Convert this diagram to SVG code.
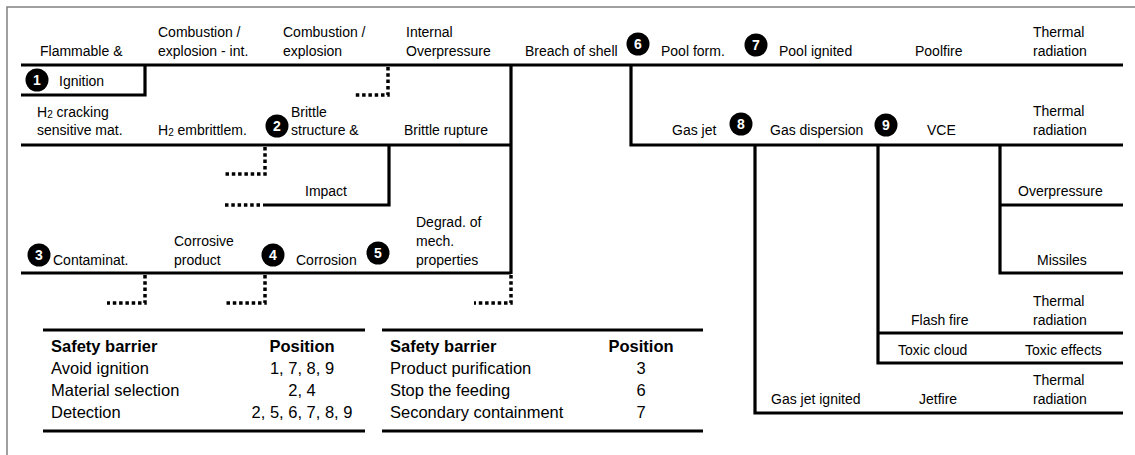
<svg xmlns="http://www.w3.org/2000/svg" width="1135" height="455" viewBox="0 0 1135 455">
<style>
.t{font-family:"Liberation Sans",Arial,sans-serif;font-size:14px;fill:#000}
.tb{font-family:"Liberation Sans",Arial,sans-serif;font-size:16.5px;fill:#000}
.b{font-weight:bold}
.c{text-anchor:middle}
.ln{stroke:#000;stroke-width:3.2;fill:none}
.dt{stroke:#000;stroke-width:3.5;fill:none;stroke-dasharray:3.5 2.8}
.badge circle{fill:#000}
.badge text{font-family:"Liberation Sans",Arial,sans-serif;font-size:14px;font-weight:bold;fill:#fff;text-anchor:middle}
.sub{font-size:10px}
</style>
<rect x="7" y="7" width="1140" height="460" fill="#fff" stroke="#808080" stroke-width="1.5"/>

<g id="connectors">
  <path class="ln" d="M21,65 H1123"/>
  <path class="ln" d="M21,95 H145 V65"/>
  <path class="ln" d="M21,145 H511"/>
  <path class="ln" d="M511,65 V274"/>
  <path class="ln" d="M21,273 H511"/>
  <path class="ln" d="M263,205 H389 V145"/>
  <path class="ln" d="M631,65 V145 H1123"/>
  <path class="ln" d="M755,145 V413 H1123"/>
  <path class="ln" d="M878,145 V363 H1123"/>
  <path class="ln" d="M878,333 H1123"/>
  <path class="ln" d="M1000,145 V273 H1123"/>
  <path class="ln" d="M1000,205 H1123"/>
  <path class="dt" d="M388,67 V95 H355"/>
  <path class="dt" d="M265,147 V174 H225"/>
  <path class="dt" d="M225,205 H262"/>
  <path class="dt" d="M145,275 V303 H107"/>
  <path class="dt" d="M265,275 V303 H226"/>
  <path class="dt" d="M511,275 V303 H474"/>
</g>

<g id="n-flammable"><text class="t" x="40" y="56">Flammable &amp;</text></g>
<g id="n-comb-int"><text class="t" x="158" y="37">Combustion /</text><text class="t" x="158" y="56">explosion - int.</text></g>
<g id="n-comb"><text class="t" x="283" y="37">Combustion /</text><text class="t" x="283" y="56">explosion</text></g>
<g id="n-internal"><text class="t" x="406" y="37">Internal</text><text class="t" x="406" y="56">Overpressure</text></g>
<g id="n-breach"><text class="t" x="525" y="56">Breach of shell</text></g>
<g id="n-poolform"><text class="t" x="661" y="56">Pool form.</text></g>
<g id="n-poolign"><text class="t" x="779" y="56">Pool ignited</text></g>
<g id="n-poolfire"><text class="t" x="915" y="56">Poolfire</text></g>
<g id="n-therm1"><text class="t" x="1033" y="37">Thermal</text><text class="t" x="1033" y="56">radiation</text></g>

<g id="n-ignition"><text class="t" x="59" y="86">Ignition</text></g>
<g id="n-h2crack"><text class="t" x="37" y="117">H<tspan class="sub" dy="1">2</tspan><tspan dy="-1"> cracking</tspan></text><text class="t" x="37" y="135">sensitive mat.</text></g>
<g id="n-h2emb"><text class="t" x="158" y="135">H<tspan class="sub" dy="1">2</tspan><tspan dy="-1"> embrittlem.</tspan></text></g>
<g id="n-brittle"><text class="t" x="291" y="117">Brittle</text><text class="t" x="291" y="135">structure &amp;</text></g>
<g id="n-rupture"><text class="t" x="404" y="135">Brittle rupture</text></g>
<g id="n-gasjet"><text class="t" x="672" y="135">Gas jet</text></g>
<g id="n-gasdisp"><text class="t" x="770" y="135">Gas dispersion</text></g>
<g id="n-vce"><text class="t" x="927" y="135">VCE</text></g>
<g id="n-therm2"><text class="t" x="1033" y="116">Thermal</text><text class="t" x="1033" y="135">radiation</text></g>

<g id="n-impact"><text class="t" x="305" y="196">Impact</text></g>
<g id="n-overp"><text class="t" x="1018" y="196">Overpressure</text></g>
<g id="n-missiles"><text class="t" x="1037" y="265">Missiles</text></g>

<g id="n-contam"><text class="t" x="53" y="265">Contaminat.</text></g>
<g id="n-corrprod"><text class="t" x="174" y="246">Corrosive</text><text class="t" x="174" y="265">product</text></g>
<g id="n-corrosion"><text class="t" x="296" y="265">Corrosion</text></g>
<g id="n-degrad"><text class="t" x="416" y="227">Degrad. of</text><text class="t" x="416" y="246">mech.</text><text class="t" x="416" y="265">properties</text></g>

<g id="n-flash"><text class="t" x="911" y="325">Flash fire</text></g>
<g id="n-therm3"><text class="t" x="1033" y="306">Thermal</text><text class="t" x="1033" y="325">radiation</text></g>
<g id="n-toxcloud"><text class="t" x="898" y="355">Toxic cloud</text></g>
<g id="n-toxeff"><text class="t" x="1025" y="355">Toxic effects</text></g>
<g id="n-gasjetign"><text class="t" x="771" y="404">Gas jet ignited</text></g>
<g id="n-jetfire"><text class="t" x="919" y="404">Jetfire</text></g>
<g id="n-therm4"><text class="t" x="1033" y="385">Thermal</text><text class="t" x="1033" y="404">radiation</text></g>

<g id="badges">
  <g class="badge" id="b1"><circle cx="37" cy="80" r="11.5"/><text x="37" y="85">1</text></g>
  <g class="badge" id="b2"><circle cx="277" cy="126" r="11.5"/><text x="277" y="131">2</text></g>
  <g class="badge" id="b3"><circle cx="39" cy="255" r="11.5"/><text x="39" y="260">3</text></g>
  <g class="badge" id="b4"><circle cx="273" cy="255" r="11.5"/><text x="273" y="260">4</text></g>
  <g class="badge" id="b5"><circle cx="378" cy="253" r="11.5"/><text x="378" y="258">5</text></g>
  <g class="badge" id="b6"><circle cx="638" cy="44" r="11.5"/><text x="638" y="49">6</text></g>
  <g class="badge" id="b7"><circle cx="756" cy="45" r="11.5"/><text x="756" y="50">7</text></g>
  <g class="badge" id="b8"><circle cx="741" cy="124" r="11.5"/><text x="741" y="129">8</text></g>
  <g class="badge" id="b9"><circle cx="886" cy="125" r="11.5"/><text x="886" y="130">9</text></g>
</g>

<g id="table1">
  <path class="ln" d="M43,330 H365 M43,431 H365"/>
  <text class="tb b" x="51" y="352">Safety barrier</text>
  <text class="tb b c" x="302" y="352">Position</text>
  <text class="tb" x="51" y="374">Avoid ignition</text>
  <text class="tb c" x="302" y="374">1, 7, 8, 9</text>
  <text class="tb" x="51" y="396">Material selection</text>
  <text class="tb c" x="302" y="396">2, 4</text>
  <text class="tb" x="51" y="418">Detection</text>
  <text class="tb c" x="302" y="418">2, 5, 6, 7, 8, 9</text>
</g>
<g id="table2">
  <path class="ln" d="M382,330 H703 M382,431 H703"/>
  <text class="tb b" x="390" y="352">Safety barrier</text>
  <text class="tb b c" x="641" y="352">Position</text>
  <text class="tb" x="390" y="374">Product purification</text>
  <text class="tb c" x="641" y="374">3</text>
  <text class="tb" x="390" y="396">Stop the feeding</text>
  <text class="tb c" x="641" y="396">6</text>
  <text class="tb" x="390" y="418">Secondary containment</text>
  <text class="tb c" x="641" y="418">7</text>
</g>
</svg>
